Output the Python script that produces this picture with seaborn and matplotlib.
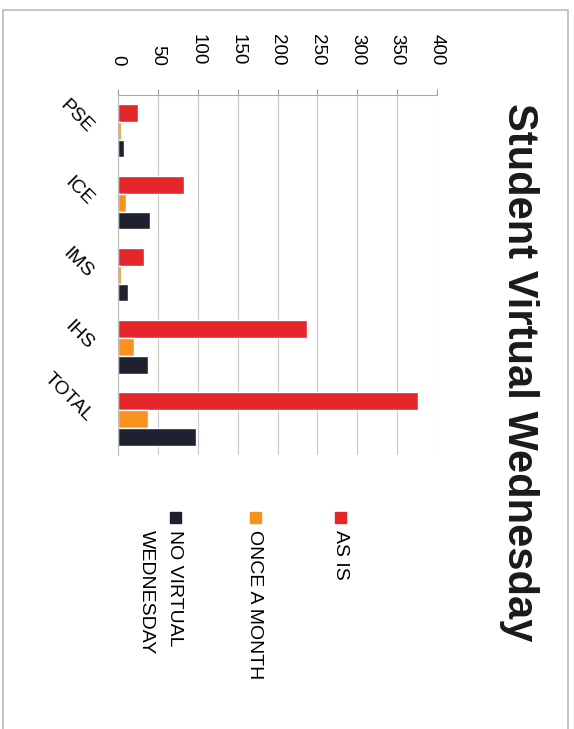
import numpy as np
import pandas as pd
import matplotlib
matplotlib.use('Agg')
import matplotlib.pyplot as plt
from matplotlib.patches import Rectangle
import seaborn as sns

# Data read from the (sideways) scanned chart
categories = ['PSE', 'ICE', 'IMS', 'IHS', 'TOTAL']
series = ['AS IS', 'ONCE A MONTH', 'NO VIRTUAL WEDNESDAY']
as_is = [25, 83, 32, 237, 376]
once_a_month = [4, 10, 4, 20, 38]
no_virtual = [8, 40, 13, 37, 98]
x_ticks = [0, 50, 100, 150, 200, 250, 300, 350, 400]
colors = ['#E5262A', '#F7921E', '#1E2230']

df = pd.DataFrame({
    'category': categories * 3,
    'series': np.repeat(series, len(categories)),
    'value': as_is + once_a_month + no_virtual,
})

sns.set_style('white')
plt.rcParams['font.family'] = ['Liberation Sans', 'DejaVu Sans']
plt.rcParams['text.color'] = 'black'
plt.rcParams['xtick.color'] = 'black'
plt.rcParams['ytick.color'] = 'black'

fig = plt.figure(figsize=(5.74, 7.29), dpi=100)
ax = fig.add_axes([0.2056, 0.376, 0.556, 0.494])

sns.barplot(data=df, x='value', y='category', hue='series', orient='h',
            palette=colors, saturation=1, width=0.74, ax=ax, legend=False)

ax.set_xlim(0, 400)
ax.set_xticks(x_ticks)
ax.xaxis.tick_top()
ax.tick_params(axis='x', labelsize=13.5, rotation=-90, length=4, color='#999999', pad=17)
ax.tick_params(axis='y', labelsize=14, length=0, pad=20)
for lab in ax.get_yticklabels():
    lab.set_rotation(-45)
    lab.set_ha('right')
    lab.set_va('center')
    lab.set_rotation_mode('anchor')
ax.set_xlabel('')
ax.set_ylabel('')
ax.grid(axis='x', color='#c8c8c8', linewidth=0.8)
ax.set_axisbelow(True)
for side in ['right', 'bottom']:
    ax.spines[side].set_visible(False)
ax.spines['top'].set_color('#aaaaaa')
ax.spines['left'].set_color('#bbbbbb')

# title, rotated like the scan
fig.text(0.905, 0.49, 'Student Virtual Wednesday', rotation=-90,
         ha='center', va='center', fontsize=30, fontweight='bold', color='#1a1a1a')

# hand-made legend with rotated text
legend_x = [340 / 574, 255 / 574, 175 / 574]
sq = 11
for lx, c, lab in zip(legend_x, colors, ['AS IS', 'ONCE A MONTH', 'NO VIRTUAL']):
    fig.add_artist(Rectangle((lx - sq / 2 / 574, 1 - 523 / 729), sq / 574, sq / 729,
                             transform=fig.transFigure, color=c))
    fig.text(lx, 1 - 530 / 729, lab, rotation=-90, rotation_mode='anchor',
             ha='left', va='center', fontsize=14)
fig.text(146 / 574, 1 - 530 / 729, 'WEDNESDAY', rotation=-90, rotation_mode='anchor',
         ha='left', va='center', fontsize=14)

# faint frame around the chart
fig.add_artist(Rectangle((0.005, -0.01), 0.985, 0.996, transform=fig.transFigure,
                         fill=False, edgecolor='#bbbbbb', linewidth=1.2))

fig.savefig('out.png', dpi=100, facecolor='white')
